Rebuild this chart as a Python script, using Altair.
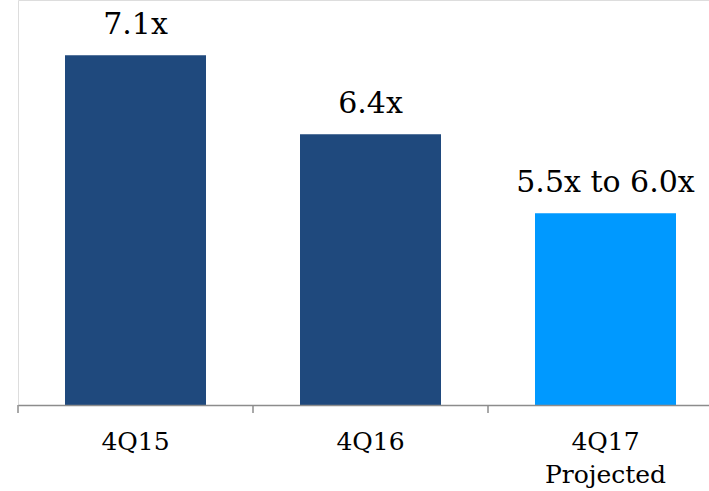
import altair as alt
import pandas as pd

periods = ["4Q15", "4Q16", "4Q17"]
values = [7.1, 6.4, 5.7]
labels = ["7.1x", "6.4x", "5.5x to 6.0x"]
colors = ["#1F497D", "#1F497D", "#0099FF"]
base_value = 4

df = pd.DataFrame({"period": periods, "value": values, "label": labels, "color": colors, "base": [base_value] * 3})

SERIF = "DejaVu Serif"

x = alt.X(
    "period:N",
    sort=periods,
    title=None,
    scale=alt.Scale(range=[0, 705], paddingInner=0.4, paddingOuter=0.2),
    axis=alt.Axis(
        labelAngle=0,
        labelFont=SERIF,
        labelFontSize=25,
        labelColor="#000000",
        labelBaseline="alphabetic",
        labelPadding=44,
        labelLineHeight=33,
        labelExpr="datum.value == '4Q17' ? ['4Q17', 'Projected'] : datum.value",
        domainColor="#8c8c8c",
        domainWidth=1.5,
        ticks=False,
        grid=False,
        zindex=1,
    ),
)
y = alt.Y("value:Q", scale=alt.Scale(domain=[4, 7.59], zero=False, nice=False), axis=None)

bars = alt.Chart(df).mark_bar().encode(
    x=x, y=y, y2="base:Q", color=alt.Color("color:N", scale=None)
)
ticks = alt.Chart(df).mark_rule(color="#8c8c8c", strokeWidth=1.5, xOffset=-47).encode(
    x=alt.X("period:N", sort=periods, bandPosition=0),
    y=alt.value(405),
    y2=alt.value(413),
)
text = alt.Chart(df).mark_text(
    baseline="alphabetic", dy=-21, font=SERIF, fontSize=30, color="#000000"
).encode(x=alt.X("period:N", sort=periods), y="value:Q", text="label:N")

chart = (
    alt.layer(bars, ticks, text)
    .properties(
        width=691,
        height=405,
        autosize=alt.AutoSizeParams(type="none"),
        padding={"left": 18, "top": 0, "right": 0, "bottom": 86},
    )
    .configure_view(stroke=None)
    .configure(background="#ffffff")
)

chart.save("out.html", embed_options={"renderer": "svg", "actions": False})
